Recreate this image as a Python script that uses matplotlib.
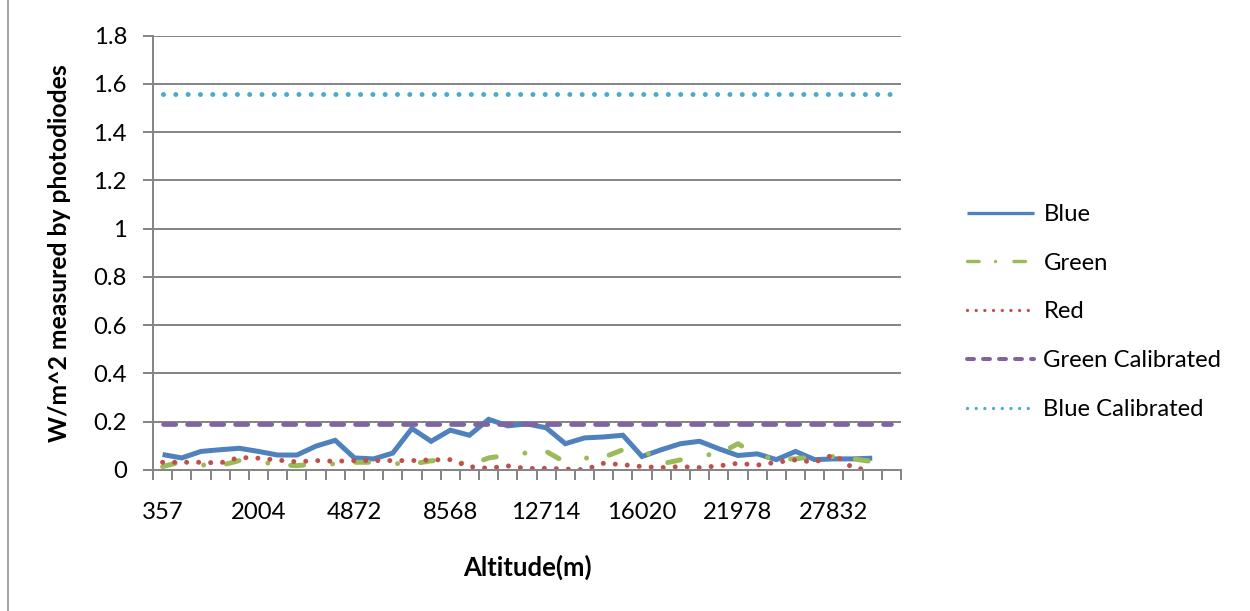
import numpy as np
import matplotlib
matplotlib.use("Agg")
import matplotlib.pyplot as plt
from matplotlib.lines import Line2D
from matplotlib.ticker import FixedLocator, NullFormatter

plt.rcParams['lines.scale_dashes'] = False
plt.rcParams['font.family'] = ['Lato', 'DejaVu Sans']

# ---------------- data ----------------
n_categories = 39
alt_labels = ['357', '2004', '4872', '8568', '12714', '16020', '21978', '27832']
alt_label_pos = [0, 5, 10, 15, 20, 25, 30, 35]

blue = [0.064, 0.050, 0.077, 0.084, 0.090, 0.077, 0.062, 0.062, 0.099, 0.123,
        0.050, 0.046, 0.070, 0.172, 0.119, 0.165, 0.144, 0.210, 0.183, 0.191,
        0.175, 0.109, 0.133, 0.137, 0.144, 0.056, 0.084, 0.109, 0.119, 0.088,
        0.060, 0.067, 0.043, 0.077, 0.043, 0.046, 0.046, 0.049]
green = [0.014, 0.035, 0.021, 0.018, 0.039, 0.035, 0.022, 0.018, 0.025, 0.025,
         0.032, 0.032, 0.027, 0.025, 0.038, 0.042, 0.020, 0.050, 0.062, 0.071,
         0.077, 0.032, 0.049, 0.053, 0.084, 0.088, 0.025, 0.042, 0.060, 0.067,
         0.109, 0.060, 0.045, 0.046, 0.056, 0.056, 0.046, 0.035]
red = [0.032, 0.032, 0.032, 0.029, 0.052, 0.049, 0.041, 0.034, 0.039, 0.036,
       0.039, 0.039, 0.039, 0.039, 0.042, 0.043, 0.014, 0.007, 0.017, 0.006,
       0.007, 0.004, 0.001, 0.028, 0.022, 0.014, 0.010, 0.014, 0.010, 0.017,
       0.028, 0.020, 0.032, 0.042, 0.032, 0.064, 0.008, 0.000]
green_cal = [0.19] * 39
blue_cal = [1.56] * 39

y_ticks = [0, 0.2, 0.4, 0.6, 0.8, 1.0, 1.2, 1.4, 1.6, 1.8]
y_tick_labels = ['0', '0.2', '0.4', '0.6', '0.8', '1', '1.2', '1.4', '1.6', '1.8']

# ---------------- styling ----------------
PX = 0.72  # points per pixel at dpi 100
C_BLUE = '#4F81BD'
C_GREEN = '#9BBB59'
C_RED = '#C0504D'
C_PURPLE = '#8064A2'
C_AQUA = '#4BACC6'
C_GRID = '#868686'
FS = 17.2

fig = plt.figure(figsize=(12.5, 6.11), dpi=100)
ax = fig.add_axes([153 / 1250, 141 / 611, (901 - 153) / 1250, (470 - 35.7) / 611])

ax.plot(np.arange(len(blue)), blue, color=C_BLUE, lw=5 * PX,
        solid_joinstyle='miter', solid_capstyle='butt', label='Blue')
ax.plot(np.arange(len(green)), green, color=C_GREEN, lw=5 * PX,
        dashes=(13 * PX, 29 * PX, 0.01, 23 * PX), dash_capstyle='round',
        label='Green')
ax.plot(np.arange(len(red)), red, color=C_RED, lw=5 * PX,
        dashes=(0.01, 12 * PX), dash_capstyle='round', label='Red')
ax.plot(np.arange(len(green_cal)), green_cal, color=C_PURPLE, lw=4.7 * PX,
        dashes=(12.3 * PX, 11.7 * PX), dash_capstyle='round',
        label='Green Calibrated')
ax.plot(np.arange(len(blue_cal)), blue_cal, color=C_AQUA, lw=5 * PX,
        dashes=(0.01, 12.3 * PX), dash_capstyle='round',
        label='Blue Calibrated')

ax.set_xlim(-0.5, n_categories - 0.5)
ax.set_ylim(0, 1.8)

# y axis
ax.set_yticks(y_ticks)
ax.set_yticklabels(y_tick_labels)
ax.yaxis.grid(True, color=C_GRID, lw=2 * PX)
ax.set_axisbelow(True)
ax.tick_params(axis='y', length=10 * PX, width=2 * PX, color=C_GRID,
               pad=16 * PX, labelsize=FS, labelcolor='black')

# x axis: tick marks at category boundaries, labels at category centres
ax.xaxis.set_major_locator(FixedLocator(np.arange(-0.5, n_categories, 1.0)))
ax.xaxis.set_major_formatter(NullFormatter())
ax.xaxis.set_minor_locator(FixedLocator(alt_label_pos))
ax.set_xticklabels(alt_labels, minor=True)
ax.tick_params(axis='x', which='major', length=10 * PX, width=2 * PX,
               color=C_GRID)
ax.tick_params(axis='x', which='minor', length=0, pad=32 * PX,
               labelsize=FS, labelcolor='black')

for side in ['top', 'right']:
    ax.spines[side].set_visible(False)
for side in ['left', 'bottom']:
    ax.spines[side].set_color(C_GRID)
    ax.spines[side].set_linewidth(2 * PX)

ax.set_ylabel('W/m^2 measured by photodiodes', fontsize=17.8,
              fontweight='bold')
ax.yaxis.set_label_coords(60 / 1250, (611 - 253.5) / 611,
                          transform=fig.transFigure)
ax.set_xlabel('Altitude(m)', fontsize=18.5, fontweight='bold')
ax.xaxis.set_label_coords(527 / 1250, (611 - 567) / 611,
                          transform=fig.transFigure)
ax.xaxis.label.set_va('center')
ax.yaxis.label.set_va('center')

# legend with smaller proxy handles (as in the reference)
handles = [
    Line2D([], [], color=C_BLUE, lw=3.3 * PX, solid_capstyle='butt'),
    Line2D([], [], color=C_GREEN, lw=3.4 * PX,
           dashes=(11.6 * PX, 16.4 * PX, 0.01, 18.4 * PX),
           dash_capstyle='round'),
    Line2D([], [], color=C_RED, lw=3.3 * PX, dashes=(0.01, 8.67 * PX),
           dash_capstyle='round'),
    Line2D([], [], color=C_PURPLE, lw=4 * PX, dashes=(7 * PX, 9 * PX),
           dash_capstyle='round'),
    Line2D([], [], color=C_AQUA, lw=3.3 * PX, dashes=(0.01, 8.67 * PX),
           dash_capstyle='round'),
]
labels = ['Blue', 'Green', 'Red', 'Green Calibrated', 'Blue Calibrated']
fig.legend(handles, labels, loc='center left',
           bbox_to_anchor=(967 / 1250, (611 - 312) / 611),
           frameon=False, fontsize=FS, borderpad=0, borderaxespad=0,
           handlelength=2.8, handletextpad=0.4, labelspacing=1.16)

# chart area border on the left
fig.add_artist(Line2D([7.8 / 1250, 7.8 / 1250], [0, 1],
                      transform=fig.transFigure, color='#A6A6A6', lw=2 * PX))

fig.savefig('out.png', dpi=100)
